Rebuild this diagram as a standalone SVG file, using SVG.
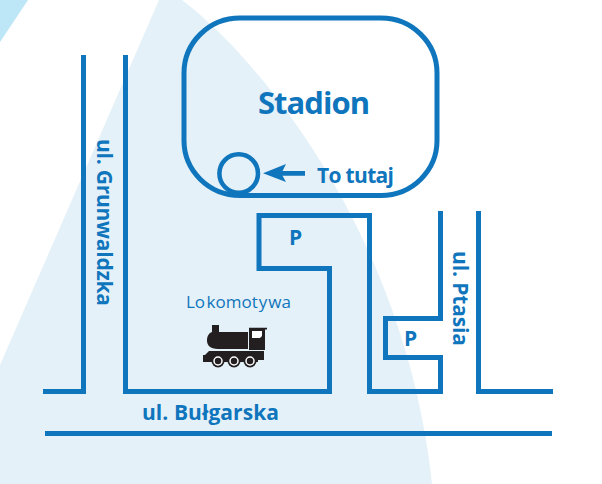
<svg xmlns="http://www.w3.org/2000/svg" width="602" height="484" viewBox="0 0 602 484">
<style>
.r{fill:none;stroke:#0f75bc;stroke-width:5}
text{font-family:"Open Sans","Noto Sans",sans-serif;fill:#0f75bc;font-weight:700;font-size:21px}
.d{fill:#231f20}
</style>
<rect width="602" height="484" fill="#fff"/>
<path d="M0 0H28L0 42Z" fill="#bde6f6"/>
<path d="M159 0H182C255 55 405 230 432 484H0V365Z" fill="#e5f1f8"/>
<g id="connectors">
<path class="r" d="M43 391.500H83.500V55"/>
<path class="r" d="M125.500 55V391.500H329.500V268.500H259V215.500H369.500V391.500H440.500V357.500H385.500V318.500H440.500V211"/>
<path class="r" d="M478.500 211V391.500H553"/>
<path class="r" d="M45 433.500H552"/>
</g>
<g id="stadion"><path class="r" d="M184 73A56 55 0 0 1 240 18H381A56 55 0 0 1 437 73V140A56 55 0 0 1 381 195.500H240A56 55 0 0 1 184 140Z"/>
<text x="258" y="114" style="font-size:31px" textLength="112" lengthAdjust="spacing">Stadion</text></g>
<g id="marker"><circle class="r" style="stroke-width:4.500" cx="238.700" cy="173.500" r="19.300"/></g>
<g id="tutaj"><path d="M305 171H282.500L286 164 263 173.300 286 182 282.500 175.700H305Z" fill="#0f75bc"/>
<text x="317" y="183" textLength="77" lengthAdjust="spacing">To tutaj</text></g>
<g id="p1"><text x="289" y="245">P</text></g>
<g id="p2"><text x="404" y="346">P</text></g>
<g id="grunwaldzka"><text transform="translate(97 139) rotate(90)" textLength="167" lengthAdjust="spacing">ul. Grunwaldzka</text></g>
<g id="ptasia"><text transform="translate(453 251) rotate(90)" textLength="95" lengthAdjust="spacing">ul. Ptasia</text></g>
<g id="bulgarska"><text x="142" y="420" textLength="137" lengthAdjust="spacing">ul. Bułgarska</text></g>
<g id="lokomotywa"><text x="186" y="308" style="font-size:17px;font-weight:400">Lo<tspan dx="1.500">komot</tspan><tspan dx="1">y</tspan><tspan dx="1">wa</tspan></text>
<path class="d" d="M212 325H219V332H248V349H218C210 349 207 345 207 340.500C207 336 209 333 212 332Z"/>
<path class="d" d="M249 327.700H267V329.500H265V350H249Z"/>
<path d="M252 331H262V336L260 338H252Z" fill="#fff"/>
<path class="d" d="M209 351H264V360H258V362H208V362H203V355H205Z"/>
<g fill="#231f20"><circle cx="218" cy="361" r="6.500"/><circle cx="234" cy="361" r="6.500"/><circle cx="250" cy="361" r="6.500"/></g>
<g fill="none" stroke="#fff" stroke-width="1.500"><circle cx="218" cy="361" r="4"/><circle cx="234" cy="361" r="4"/><circle cx="250" cy="361" r="4"/></g>
</g>
</svg>
